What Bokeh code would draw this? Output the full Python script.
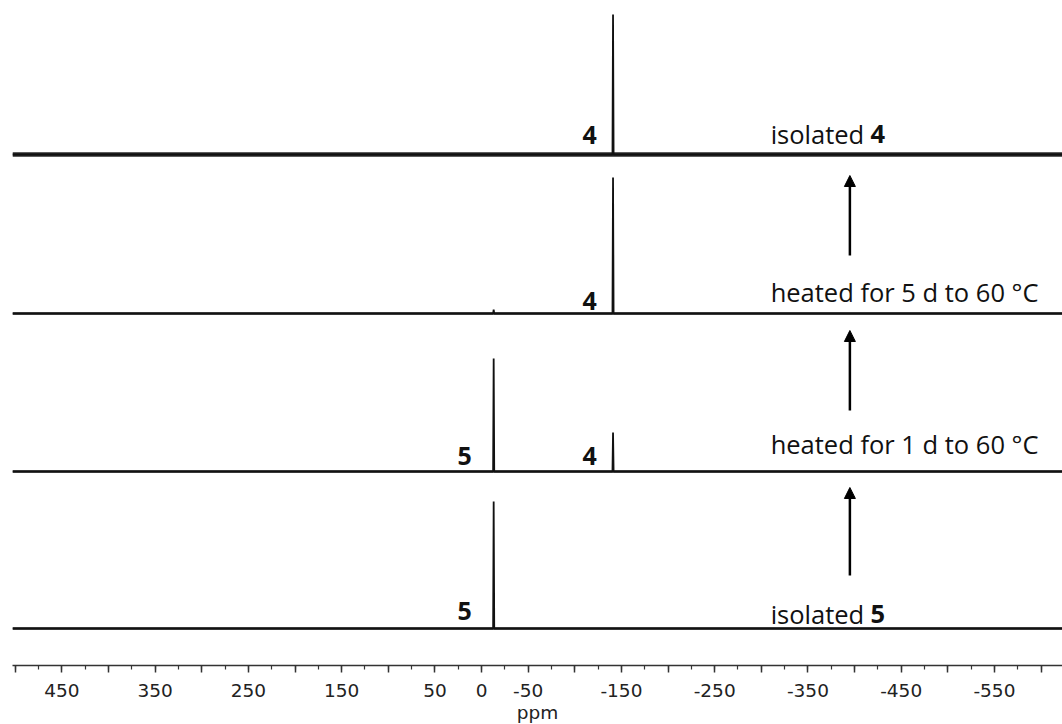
from bokeh.plotting import figure
from bokeh.models import Range1d, FixedTicker, Arrow, NormalHead
from bokeh.core.properties import value
from bokeh.embed import file_html
from bokeh.resources import INLINE

# ---------------- data ----------------
# chemical shifts (ppm) of the two species
shift_5 = -13
shift_4 = -141

# spectra, bottom to top
spectrum_names = ["isolated 5", "heated for 1 d to 60 °C", "heated for 5 d to 60 °C", "isolated 4"]
peak_shifts = [[shift_5], [shift_5, shift_4], [shift_5, shift_4], [shift_4]]
peak_heights = [[127], [113, 39], [4, 136], [140]]
stack_offsets = [0, 157, 315, 474]
noise_level = [2.3, 2.3, 2.3, 4.4]

# axis ticks
tick_values = list(range(500, -625, -50))
labelled_ticks = [450, 350, 250, 150, 50, 0, -50, -150, -250, -350, -450, -550]
minor_tick_values = list(range(500, -625, -25))

ppm_left, ppm_right = 503, -623

# ---------------- figure ----------------
p = figure(frame_width=1050, frame_height=665, output_backend="svg", toolbar_location=None,
           x_range=Range1d(ppm_left, ppm_right), y_range=Range1d(-37, 628),
           min_border_left=12, min_border_right=0, min_border_top=0, min_border_bottom=0)
p.outline_line_color = None
p.xgrid.visible = False
p.ygrid.visible = False
p.yaxis.visible = False
p.background_fill_color = "white"

ink = "#111111"

for shifts, heights, off, nw in zip(peak_shifts, peak_heights, stack_offsets, noise_level):
    # baseline (noise band)
    p.line([ppm_left, ppm_right], [off, off], line_color="#2a2a2a", line_width=nw)
    xs = [ppm_left]
    ys = [off]
    for s, h in sorted(zip(shifts, heights), key=lambda t: -t[0]):
        xs += [s + 0.6, s, s - 0.6]
        ys += [off, off + h, off]
    xs.append(ppm_right)
    ys.append(off)
    p.line(xs, ys, line_color=ink, line_width=1.8)

# peak labels (bold compound numbers)
peak_label_text = ["5", "5", "4", "4", "4"]
peak_label_x = [shift_5 + 31, shift_5 + 31, shift_4 + 25, shift_4 + 25, shift_4 + 25]
peak_label_y = [0 + 18, 157 + 16, 157 + 16, 315 + 13, 474 + 20]
p.text(x=peak_label_x, y=peak_label_y, text=peak_label_text, text_align="center",
       text_baseline="alphabetic", text_font=value("Open Sans"), text_font_style="bold",
       text_font_size="25px", text_color=ink)

# condition labels
cond_x = -310
p.text(x=[cond_x, cond_x, cond_x, cond_x], y=[15, 185, 337, 495],
       text=["isolated", "heated for 1 d to 60 °C", "heated for 5 d to 60 °C", "isolated"],
       text_align="left", text_baseline="alphabetic", text_font=value("Open Sans"),
       text_font_size="25.5px", text_color=ink)
p.text(x=[-417, -417], y=[15, 495], text=["5", "4"], text_align="left",
       text_baseline="alphabetic", text_font=value("Open Sans"), text_font_style="bold",
       text_font_size="25.5px", text_color=ink)

# arrows
arrow_x = -395
for y0, y1 in [(53, 141), (218, 298), (373, 453)]:
    p.add_layout(Arrow(end=NormalHead(size=11, fill_color="black", line_color="black", line_width=1),
                       x_start=arrow_x, y_start=y0, x_end=arrow_x, y_end=y1,
                       line_width=2.5, line_color="black"))

# x axis
ax = p.xaxis[0]
ax.ticker = FixedTicker(ticks=tick_values, minor_ticks=minor_tick_values)
ax.major_label_overrides = {t: (str(t) if t in labelled_ticks else "") for t in tick_values}
ax.major_tick_in = 0
ax.major_tick_out = 7
ax.minor_tick_in = 0
ax.minor_tick_out = 4
ax.major_tick_line_color = "#333333"
ax.minor_tick_line_color = "#333333"
ax.axis_line_color = "#333333"
ax.axis_line_width = 1.5
ax.major_tick_line_width = 1.5
ax.minor_tick_line_width = 1.2
ax.major_label_text_font = "DejaVu Sans"
ax.major_label_text_font_size = "18.5px"
ax.major_label_text_color = "#222222"
ax.major_label_standoff = 11
ax.axis_label = "ppm"
ax.axis_label_text_font = "DejaVu Sans"
ax.axis_label_text_font_style = "normal"
ax.axis_label_text_font_size = "18.5px"
ax.axis_label_text_color = "#222222"
ax.axis_label_standoff = 2

open("out.html", "w").write(file_html(p, INLINE))
